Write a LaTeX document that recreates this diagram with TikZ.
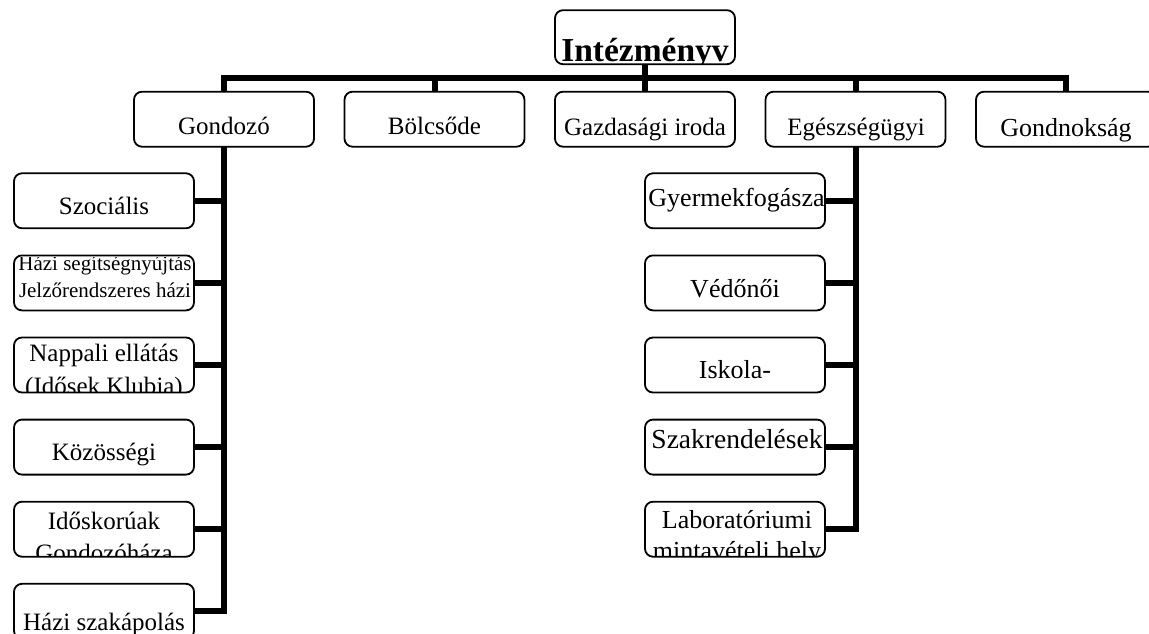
\documentclass[tikz,border=0pt]{standalone}
\usepackage{fontspec}
\setmainfont{Liberation Serif}
\newcommand\fs[1]{\fontsize{#1}{#1}\selectfont}
\newcommand\clipin[1]{\clip[rounded corners=7pt] ([shift={(1pt,-1pt)}]#1.north west) rectangle ([shift={(-1pt,1pt)}]#1.south east);}
\begin{document}
\begin{tikzpicture}[x=1pt,y=-1pt,
  box/.style={draw, line width=1.8pt, rounded corners=8pt, minimum width=180pt, minimum height=55pt, inner sep=0pt, outer sep=0pt},
  conn/.style={line width=6pt},
  txt/.style={anchor=base, inner sep=0pt, outer sep=0pt, font=\fs{25}},
  sml/.style={txt, font=\fs{21}},
  rgt/.style={txt, font=\fs{26}}]
\useasboundingbox (0,0) rectangle (1149,634);
\fill[white] (0,0) rectangle (1149,634);
% boxes
\node[box, minimum height=54pt] (title) at (645,37.2) {};
\node[box] (gondozo) at (224,119.2) {};
\node[box] (bolcs) at (434.5,119.2) {};
\node[box] (gazd) at (645,119.2) {};
\node[box] (egesz) at (855.5,119.2) {};
\node[box] (gondnok) at (1066,119.2) {};
\node[box] (szoc) at (104,200.8) {};
\node[box] (hazi) at (104,282.9) {};
\node[box] (napp) at (104,365.0) {};
\node[box] (kozo) at (104,447.1) {};
\node[box] (idos) at (104,529.2) {};
\node[box] (hszak) at (104,611.3) {};
\node[box] (gyer) at (735,200.8) {};
\node[box] (vedo) at (735,282.9) {};
\node[box] (isko) at (735,365.0) {};
\node[box] (szakr) at (735,447.1) {};
\node[box] (labo) at (735,529.2) {};
% texts (clipped to their boxes)
\begin{scope}\clipin{title}\node[txt, font=\fs{33.5}\bfseries] (t-title) at (645,62) {Intézményv};\end{scope}
\begin{scope}\clipin{gondozo}\node[txt] (t-gondozo) at (224,134.5) {Gondozó};\end{scope}
\begin{scope}\clipin{bolcs}\node[txt] (t-bolcs) at (434.5,134.5) {Bölcsőde};\end{scope}
\begin{scope}\clipin{gazd}\node[txt] (t-gazd) at (645,135) {Gazdasági iroda};\end{scope}
\begin{scope}\clipin{egesz}\node[txt] (t-egesz) at (856,135) {Egészségügyi};\end{scope}
\begin{scope}\clipin{gondnok}\node[rgt] (t-gondnok) at (1066,136) {Gondnokság};\end{scope}
\begin{scope}\clipin{szoc}\node[txt] (t-szoc) at (104,214) {Szociális};\end{scope}
\begin{scope}\clipin{hazi}
  \node[sml] (t-hazi1) at (105,270.4) {Házi segítségnyújtás};
  \node[sml] (t-hazi2) at (105,297.1) {Jelzőrendszeres házi};\end{scope}
\begin{scope}\clipin{napp}
  \node[txt] (t-napp1) at (104,361) {Nappali ellátás};
  \node[txt] (t-napp2) at (104,394) {(Idősek Klubja)};\end{scope}
\begin{scope}\clipin{kozo}\node[txt] (t-kozo) at (104,460.3) {Közösségi};\end{scope}
\begin{scope}\clipin{idos}
  \node[txt] (t-idos1) at (104,529.3) {Időskorúak};
  \node[txt] (t-idos2) at (104,561) {Gondozóháza};\end{scope}
\begin{scope}\clipin{hszak}\node[txt] (t-hszak) at (104,630) {Házi szakápolás};\end{scope}
\begin{scope}\clipin{gyer}\node[rgt] (t-gyer) at (736.5,206.7) {Gyermekfogásza};\end{scope}
\begin{scope}\clipin{vedo}\node[rgt] (t-vedo) at (735,297.1) {Védőnői};\end{scope}
\begin{scope}\clipin{isko}\node[rgt] (t-isko) at (735,378.8) {Iskola-};\end{scope}
\begin{scope}\clipin{szakr}\node[txt, font=\fs{27.5}] (t-szakr) at (737,448) {Szakrendelések};\end{scope}
\begin{scope}\clipin{labo}
  \node[rgt] (t-labo1) at (737,528) {Laboratóriumi};
  \node[rgt] (t-labo2) at (737,559) {mintavételi hely};\end{scope}
% connectors
\coordinate (bus) at (645,78);
\draw[conn] (gondozo.north) |- (bus) -| (gondnok.north);
\draw[conn] (title.south) -- (gazd.north);
\draw[conn] (bolcs.north) -- (bolcs.north |- bus);
\draw[conn] (egesz.north) -- (egesz.north |- bus);
\draw[conn] (gondozo.south) |- (hszak.east);
\foreach \n in {szoc,hazi,napp,kozo,idos} \draw[conn] (\n.east) -- (\n.east -| gondozo.south);
\draw[conn] (egesz.south) |- (labo.east);
\foreach \n in {gyer,vedo,isko,szakr} \draw[conn] (\n.east) -- (\n.east -| egesz.south);
\end{tikzpicture}
\end{document}
